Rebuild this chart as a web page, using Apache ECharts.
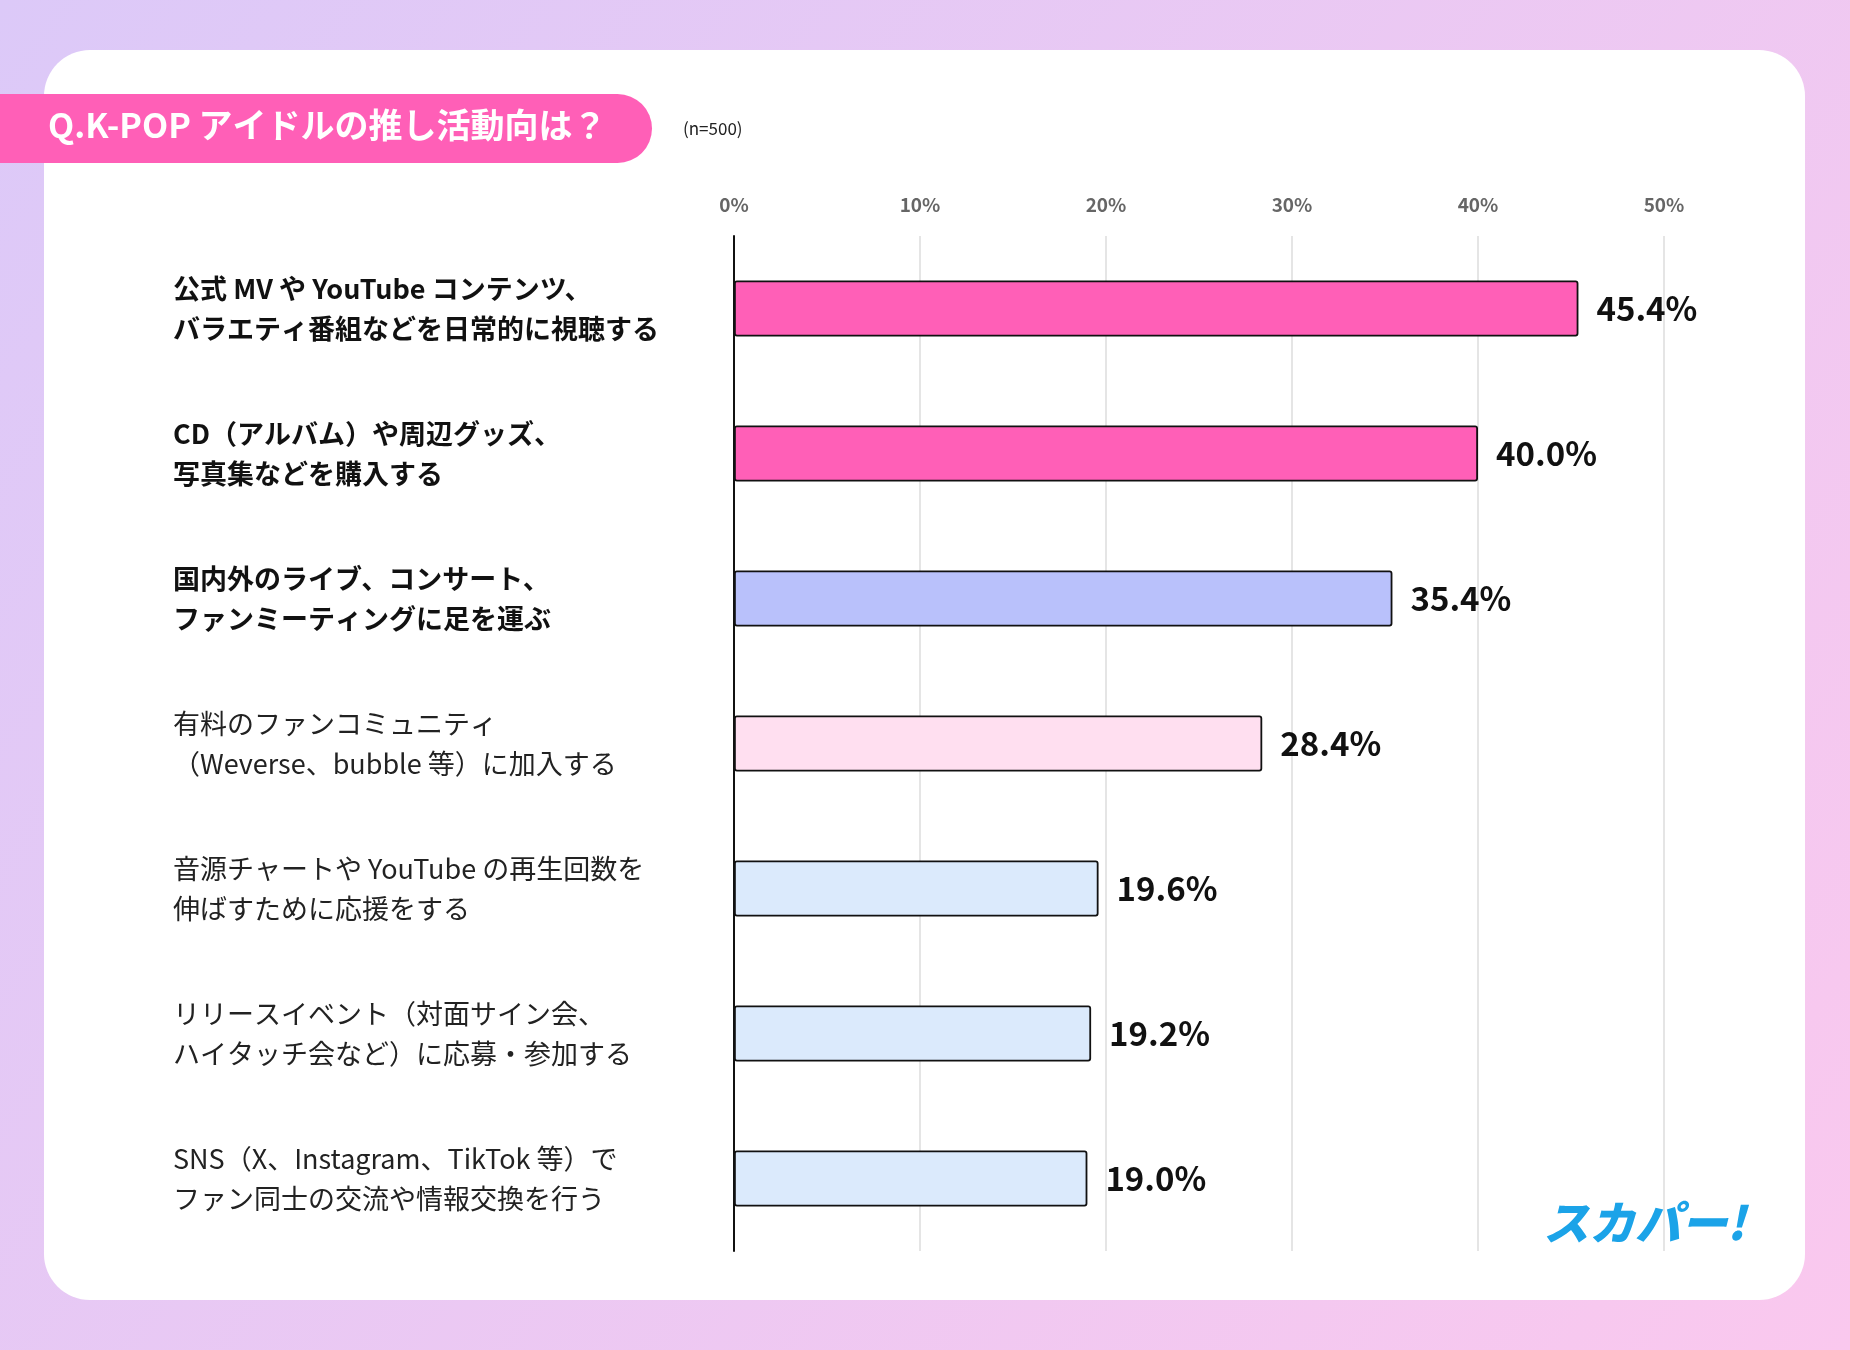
<!DOCTYPE html>
<html><head><meta charset="utf-8">
<script src="https://cdn.jsdelivr.net/npm/echarts@6/dist/echarts.min.js"></script>
<style>html,body{margin:0;padding:0;}#c{width:1850px;height:1350px;}</style>
</head><body><div id="c"></div>
<script>
const categories = [
  '公式 MV や YouTube コンテンツ、\nバラエティ番組などを日常的に視聴する',
  'CD（アルバム）や周辺グッズ、\n写真集などを購入する',
  '国内外のライブ、コンサート、\nファンミーティングに足を運ぶ',
  '有料のファンコミュニティ\n（Weverse、bubble 等）に加入する',
  '音源チャートや YouTube の再生回数を\n伸ばすために応援をする',
  'リリースイベント（対面サイン会、\nハイタッチ会など）に応募・参加する',
  'SNS（X、Instagram、TikTok 等）で\nファン同士の交流や情報交換を行う'
];
const values = [45.4, 40.0, 35.4, 28.4, 19.6, 19.2, 19.0];
const barColors = ['#ff5fb7','#ff5fb7','#b9c1fb','#ffdff0','#dbeafc','#dbeafc','#dbeafc'];
const boldFlags = [true,true,true,false,false,false,false];
const tickLabels = ['0%','10%','20%','30%','40%','50%'];

const font = '"Noto Sans CJK JP", "Noto Sans", sans-serif';
const chart = echarts.init(document.getElementById('c'));
chart.setOption({
  backgroundColor: new echarts.graphic.LinearGradient(0,0,1,1,[{offset:0,color:'#dcc9f8'},{offset:1,color:'#fac8ee'}]),
  graphic: [
    {type:'rect', shape:{x:44,y:50,width:1761,height:1250,r:46}, style:{fill:'#ffffff'}, z:-10},
    {type:'rect', shape:{x:-40,y:94,width:692,height:69,r:35}, style:{fill:'#ff5fb7'}, z:5},
    {type:'text', left:48, top:108, style:{text:'Q.K-POP アイドルの推し活動向は？', fill:'#fff', font:'bold 34px '+font}, z:6},
    {type:'text', left:683, top:120, style:{text:'(n=500)', fill:'#222', font:'17px '+font}, z:6},
    {type:'text', left:1543, top:1200, style:{text:'スカパー!', fill:'#1ba3e8', font:'italic 900 46px '+font}, z:6}
  ],
  grid:{left:734, top:236, width:930, height:1015, containLabel:false},
  xAxis:{type:'value', min:0, max:50, interval:10, position:'top',
    axisLine:{show:false}, axisTick:{show:false},
    axisLabel:{formatter:(v)=>tickLabels[v/10], color:'#666', fontSize:19, fontFamily:font, fontWeight:'bold', margin:22},
    splitLine:{lineStyle:{color:'#dddddd', width:1.5}}},
  yAxis:{type:'category', inverse:true, data:categories,
    axisLine:{show:true, lineStyle:{color:'#111', width:2}}, axisTick:{show:false},
    axisLabel:{margin:561, align:'left', lineHeight:40, color:'#111', fontFamily:font,
      formatter:(v,i)=> boldFlags[i] ? '{b|'+v.split('\n').join('}\n{b|')+'}' : '{n|'+v.split('\n').join('}\n{n|')+'}',
      rich:{b:{fontSize:27, fontWeight:'bold', lineHeight:40, fontFamily:font, color:'#111'}, n:{fontSize:27, lineHeight:40, fontFamily:font, color:'#222'}}}},
  series:[{type:'bar', barWidth:56,
    data: values.map((v,i)=>({value:v, itemStyle:{color:barColors[i], borderColor:'#111', borderWidth:1.8, borderRadius:2}})),
    label:{show:true, position:'right', distance:18, formatter:(p)=>p.value.toFixed(1)+'%', color:'#111', fontSize:33, fontWeight:'bold', fontFamily:font}
  }]
});
</script></body></html>
